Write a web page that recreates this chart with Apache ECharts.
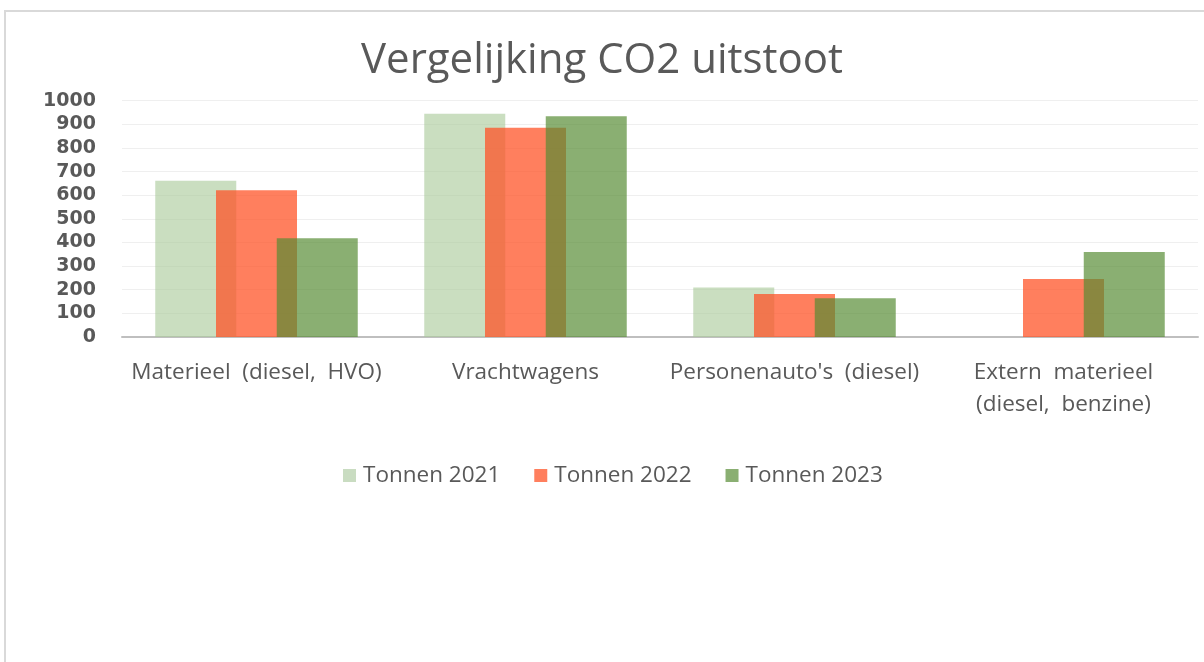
<!DOCTYPE html>
<html>
<head>
<meta charset="utf-8">
<script src="https://cdn.jsdelivr.net/npm/echarts@6/dist/echarts.min.js"></script>
<style>
	html, body { margin: 0; padding: 0; background: #fff; }
	#frame { position: absolute; left: 4px; top: 10px; width: 1210px; height: 660px; border-left: 2px solid #d9d9d9; border-top: 2px solid #d9d9d9; }
	#chart { position: absolute; left: 0; top: 0; width: 1204px; height: 662px; }
</style>
</head>
<body>
<div id="frame"></div>
<div id="chart"></div>
<script>
let categories = ['Materieel  (diesel,  HVO)', 'Vrachtwagens', "Personenauto's  (diesel)", 'Extern  materieel\n(diesel,  benzine)'];
let seriesNames = ['Tonnen 2021', 'Tonnen 2022', 'Tonnen 2023'];
let tonnen2021 = [661, 945, 210, 0];
let tonnen2022 = [621, 886, 182, 245];
let tonnen2023 = [418, 934, 164, 360];

let colors = ['rgba(169, 201, 154, 0.62)', 'rgba(255, 84, 40, 0.75)', 'rgba(85, 139, 51, 0.69)'];
let legendColors = ['#c9dcc1', '#ff7f5e', '#8aaf72'];

let myChart = echarts.init(document.getElementById('chart'));

let values = [tonnen2021, tonnen2022, tonnen2023];
let series = [];
seriesNames.forEach((name, i) => {
	series.push({
		name: name,
		type: 'bar',
		barWidth: 81,
		barGap: '-25%',
		itemStyle: {
			color: colors[i]
		},
		data: values[i]
	});
});

let option = {
	title: {
		text: 'Vergelijking CO2 uitstoot',
		left: 'center',
		top: 35,
		textStyle: {
			fontFamily: 'Open Sans',
			fontSize: 42,
			fontWeight: 'normal',
			color: '#595959'
		}
	},
	legend: {
		data: seriesNames.map((n, i) => ({ name: n, itemStyle: { color: legendColors[i] } })),
		top: 459,
		left: 338,
		icon: 'rect',
		itemWidth: 13,
		itemHeight: 13,
		itemGap: 34,
		textStyle: {
			fontFamily: 'Open Sans',
			fontSize: 22.5,
			color: '#595959',
			padding: [0, 0, 0, 2]
		}
	},
	grid: {
		left: 122,
		right: 6,
		top: 100.7,
		bottom: 325
	},
	xAxis: {
		type: 'category',
		data: categories,
		axisTick: { show: false },
		axisLine: { lineStyle: { color: '#bfbfbf', width: 2 } },
		axisLabel: {
			interval: 0,
			margin: 20,
			fontFamily: 'Open Sans',
			fontSize: 22.5,
			lineHeight: 32,
			color: '#595959'
		}
	},
	yAxis: {
		type: 'value',
		min: 0,
		max: 1000,
		interval: 100,
		axisLine: { show: false },
		axisTick: { show: false },
		splitLine: { lineStyle: { color: '#efefef', width: 1 } },
		axisLabel: {
			margin: 26,
			formatter: value => String(value),
			fontFamily: 'DejaVu Sans',
			fontWeight: 'bold',
			fontSize: 19,
			color: '#595959'
		}
	},
	series: series
};

myChart.setOption(option);
</script>
</body>
</html>
